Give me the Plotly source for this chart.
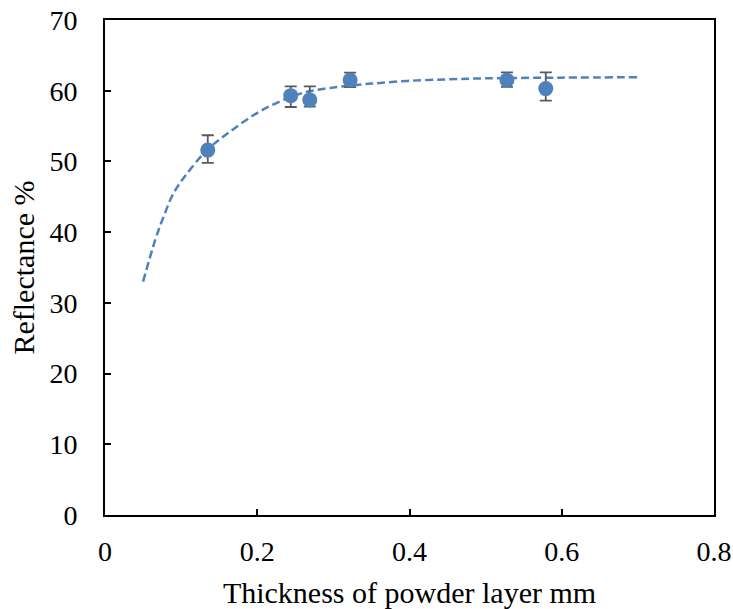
import plotly.graph_objects as go

# measured data
thickness = [0.135, 0.244, 0.269, 0.322, 0.528, 0.579]
reflectance = [51.6, 59.3, 58.7, 61.5, 61.5, 60.3]
err_plus = [2.1, 1.3, 1.9, 1.05, 1.1, 2.3]
err_minus = [1.8, 1.6, 0.95, 1.0, 0.95, 1.7]

# fitted trend curve
fit_x = [0.05, 0.066, 0.077, 0.09, 0.105, 0.134, 0.164, 0.199, 0.23, 0.26,
         0.296, 0.339, 0.361, 0.40, 0.45, 0.50, 0.60, 0.70]
fit_y = [33.0, 38.9, 42.2, 45.5, 47.9, 51.6, 54.2, 56.8, 58.5, 59.7,
         60.4, 60.9, 61.1, 61.4, 61.6, 61.75, 61.85, 61.9]

x_ticks = [0, 0.2, 0.4, 0.6, 0.8]
x_tick_labels = ["0", "0.2", "0.4", "0.6", "0.8"]
y_ticks = [0, 10, 20, 30, 40, 50, 60, 70]
y_tick_labels = ["0", "10", "20", "30", "40", "50", "60", "70"]

blue = "#4F81BD"
font_family = "Liberation Serif"

fig = go.Figure()
fig.add_trace(go.Scatter(
    x=fit_x, y=fit_y, mode="lines",
    line=dict(color=blue, width=2.5, dash="8px,4px", shape="spline"),
    showlegend=False, hoverinfo="skip",
))
fig.add_trace(go.Scatter(
    x=thickness, y=reflectance, mode="markers",
    marker=dict(color=blue, size=15, line=dict(width=0)),
    error_y=dict(type="data", symmetric=False, array=err_plus, arrayminus=err_minus,
                 color="#595959", thickness=1.8, width=6),
    showlegend=False,
))

tick_font = dict(family=font_family, size=28, color="black")
title_font = dict(family=font_family, size=30, color="black")

fig.update_layout(
    width=733, height=609,
    margin=dict(l=105, r=19, t=20, b=94, autoexpand=False),
    paper_bgcolor="white", plot_bgcolor="white",
    font=dict(family=font_family, size=28, color="black"),
    xaxis=dict(
        range=[0, 0.8], tickmode="array", tickvals=x_ticks, ticktext=x_tick_labels,
        tickfont=tick_font, automargin=False, ticklabelstandoff=10,
        showgrid=False, zeroline=False, showline=True, linecolor="black", linewidth=2,
        mirror=True, ticks="inside", ticklen=6, tickwidth=1.5, tickcolor="black",
        title=dict(text="Thickness of powder layer mm", font=title_font, standoff=16),
    ),
    yaxis=dict(
        range=[0, 70], tickmode="array", tickvals=y_ticks, ticktext=y_tick_labels,
        tickfont=tick_font, automargin=False, ticklabelstandoff=20,
        showgrid=False, zeroline=False, showline=True, linecolor="black", linewidth=2,
        mirror=True, ticks="inside", ticklen=6, tickwidth=1.5, tickcolor="black",
        title=dict(text="Reflectance %", font=title_font, standoff=6),
    ),
)
fig.write_html("out.html")
